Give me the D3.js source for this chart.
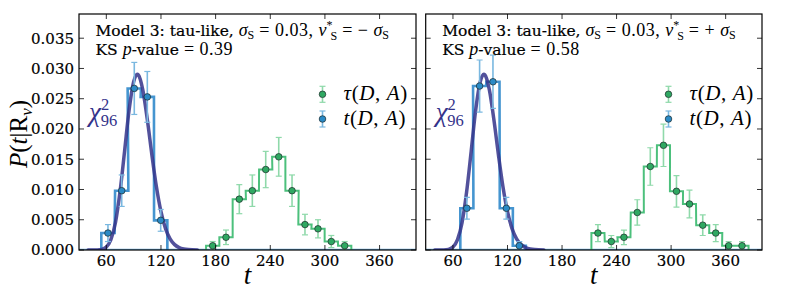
<!DOCTYPE html>
<html><head><meta charset="utf-8">
<script src="https://cdn.jsdelivr.net/npm/d3@7"></script>
<style>
html,body{margin:0;padding:0;background:#fff;}
svg{display:block;}
</style></head>
<body>
<svg id="chart" width="789" height="295"></svg>
<script>
// ---------- data ----------
const xTicks = [60, 120, 180, 240, 300, 360];
const yTicks = [0, 0.005, 0.010, 0.015, 0.020, 0.025, 0.030, 0.035];
const yTickLabels = ["0.000","0.005","0.010","0.015","0.020","0.025","0.030","0.035"];

// chi^2_96 curve
const chiT = [40, 50, 55, 60, 65, 70, 75, 80, 85, 90, 94, 95, 100, 105, 110, 115, 120, 125, 130, 135, 140, 145, 150, 160];
const chiP = [0.0000001, 0.0000135, 0.000098, 0.00048, 0.0017, 0.00452, 0.00957, 0.01626, 0.02312, 0.0278, 0.02904, 0.02896, 0.02649, 0.02155, 0.01575, 0.01044, 0.00633, 0.00354, 0.00184, 0.00089, 0.0004, 0.00017, 0.00007, 0.00001];

// left panel (nu* = -sigma)
const leftTitle = "−";
const leftKS = "0.39";
const leftBlueT = [61.8, 76.9, 90.7, 105.0, 119.7];
const leftBlueP = [0.0028, 0.0098, 0.0267, 0.0253, 0.0049];
const leftBlueErr = [0.0014, 0.0026, 0.0043, 0.0042, 0.0018];
const leftBlueW = 14.6;
const leftGreenT = [176.8, 191.4, 206.0, 220.3, 235.0, 249.3, 263.9, 278.1, 292.4, 307.0, 321.7];
const leftGreenP = [0.0007, 0.0021, 0.0084, 0.0098, 0.0133, 0.0154, 0.0098, 0.0042, 0.0035, 0.0014, 0.0007];
const leftGreenErr = [0.0007, 0.0012, 0.0024, 0.0026, 0.0030, 0.0032, 0.0026, 0.0017, 0.0015, 0.0010, 0.0007];
const leftGreenW = 14.6;

// right panel (nu* = +sigma)
const rightTitle = "+";
const rightKS = "0.58";
const rightBlueT = [75.3, 89.3, 104.0, 118.7, 133.0];
const rightBlueP = [0.0069, 0.0271, 0.0278, 0.0069, 0.0007];
const rightBlueErr = [0.0018, 0.0043, 0.0044, 0.0018, 0.0007];
const rightBlueW = 14.4;
const rightGreenT = [219.5, 234.2, 248.1, 262.8, 277.1, 291.6, 305.9, 320.2, 334.8, 349.1, 363.3, 378.0];
const rightGreenP = [0.0028, 0.0014, 0.0021, 0.0062, 0.0138, 0.0173, 0.0097, 0.0076, 0.0041, 0.0028, 0.0007, 0.0007];
const rightGreenErr = [0.0014, 0.0010, 0.0012, 0.0021, 0.0031, 0.0035, 0.0026, 0.0023, 0.0017, 0.0014, 0.0007, 0.0007];
const rightGreenW = 14.4;

const legendLabels = ["τ", "t"];

// ---------- styling ----------
const BLUE = "#3189cb", BLUE_ERR = "#7ab8e0", BLUE_PT = "#2a8ac6";
const GREEN = "#4cc07c", GREEN_ERR = "#8fd9aa", GREEN_PT = "#2fa862";
const CHI = "#34338a";
const SERIF = "'DejaVu Serif', serif";
const MATH = "'Liberation Serif', serif";

const svg = d3.select("#chart");
const panels = [
  {x0: 79, x1: 416, sign: leftTitle, ks: leftKS,
   blue: {t: leftBlueT, p: leftBlueP, e: leftBlueErr, w: leftBlueW},
   green: {t: leftGreenT, p: leftGreenP, e: leftGreenErr, w: leftGreenW},
   showY: true},
  {x0: 425.7, x1: 762, sign: rightTitle, ks: rightKS,
   blue: {t: rightBlueT, p: rightBlueP, e: rightBlueErr, w: rightBlueW},
   green: {t: rightGreenT, p: rightGreenP, e: rightGreenErr, w: rightGreenW},
   showY: false}
];
const yTop = 14, yBot = 250;

panels.forEach((P, pi) => {
  const x = d3.scaleLinear().domain([30, 400]).range([P.x0, P.x1]);
  const y = d3.scaleLinear().domain([0, 0.039]).range([yBot, yTop]);
  const g = svg.append("g");
  const clipId = "clip" + pi;
  svg.append("clipPath").attr("id", clipId).append("rect")
    .attr("x", P.x0).attr("y", yTop).attr("width", P.x1 - P.x0).attr("height", yBot - yTop);
  const plot = g.append("g").attr("clip-path", `url(#${clipId})`);

  plot.append("line").attr("x1", P.x0).attr("x2", P.x1)
    .attr("y1", y(0) - 0.5).attr("y2", y(0) - 0.5)
    .attr("stroke", BLUE).attr("stroke-width", 1.5).attr("opacity", 0.7);

  function stepPts(s) {
    const pts = [];
    s.t.forEach((c, i) => {
      const l = c - s.w / 2, r = c + s.w / 2;
      if (i === 0) pts.push([l, 0]);
      pts.push([l, s.p[i]]);
      pts.push([r, s.p[i]]);
      if (i === s.t.length - 1) pts.push([r, 0]);
    });
    return pts;
  }
  const line = d3.line().x(d => x(d[0])).y(d => y(d[1]));

  plot.append("path").attr("d", line(stepPts(P.green)))
    .attr("fill", "none").attr("stroke", GREEN).attr("stroke-width", 2);
  plot.append("path").attr("d", line(stepPts(P.blue)))
    .attr("fill", "none").attr("stroke", BLUE).attr("stroke-width", 2.6).attr("opacity", 0.9);

  plot.append("path").attr("d", d3.line().curve(d3.curveMonotoneX).x((d, i) => x(chiT[i])).y(d => y(d))(chiP))
    .attr("fill", "none").attr("stroke", CHI).attr("stroke-width", 3.5).attr("opacity", 0.85)
    .attr("stroke-linecap", "round");

  function errbars(s, col, ptcol) {
    const eg = plot.append("g");
    s.t.forEach((c, i) => {
      const cx = x(c), ylo = y(s.p[i] - s.e[i]), yhi = y(s.p[i] + s.e[i]);
      eg.append("line").attr("x1", cx).attr("x2", cx).attr("y1", ylo).attr("y2", yhi)
        .attr("stroke", col).attr("stroke-width", 1.6);
      [ylo, yhi].forEach(yy => eg.append("line").attr("x1", cx - 3).attr("x2", cx + 3)
        .attr("y1", yy).attr("y2", yy).attr("stroke", col).attr("stroke-width", 1.2));
    });
    s.t.forEach((c, i) => {
      eg.append("circle").attr("cx", x(c)).attr("cy", y(s.p[i])).attr("r", 3.3)
        .attr("fill", ptcol).attr("stroke", "#1c2a2a").attr("stroke-width", 0.7);
    });
  }
  errbars(P.green, GREEN_ERR, GREEN_PT);
  errbars(P.blue, BLUE_ERR, BLUE_PT);

  g.append("rect").attr("x", P.x0).attr("y", yTop).attr("width", P.x1 - P.x0).attr("height", yBot - yTop)
    .attr("fill", "none").attr("stroke", "#000").attr("stroke-width", 1.2);

  xTicks.forEach(v => {
    const xx = x(v);
    g.append("line").attr("x1", xx).attr("x2", xx).attr("y1", yBot).attr("y2", yBot - 5).attr("stroke", "#000").attr("stroke-width", 0.8);
    g.append("line").attr("x1", xx).attr("x2", xx).attr("y1", yTop).attr("y2", yTop + 5).attr("stroke", "#000").attr("stroke-width", 0.8);
    g.append("text").attr("x", xx).attr("y", 266).attr("text-anchor", "middle")
      .attr("font-family", SERIF).attr("font-size", 15)
      .attr("stroke", "#000").attr("stroke-width", 0.2).attr("fill", "#000").text(v);
  });
  yTicks.forEach((v, i) => {
    const yy = y(v);
    g.append("line").attr("x1", P.x0).attr("x2", P.x0 + 5).attr("y1", yy).attr("y2", yy).attr("stroke", "#000").attr("stroke-width", 0.8);
    g.append("line").attr("x1", P.x1).attr("x2", P.x1 - 5).attr("y1", yy).attr("y2", yy).attr("stroke", "#000").attr("stroke-width", 0.8);
    if (P.showY) {
      g.append("text").attr("x", P.x0 - 5).attr("y", yy + 5.3).attr("text-anchor", "end")
        .attr("font-family", SERIF).attr("font-size", 15)
        .attr("stroke", "#000").attr("stroke-width", 0.2).attr("fill", "#000").text(yTickLabels[i]);
    }
  });

  g.append("text").attr("x", (P.x0 + P.x1) / 2).attr("y", 284).attr("text-anchor", "middle")
    .attr("font-family", MATH).attr("font-style", "italic").attr("font-size", 27).text("t");

  // title line 1
  const t1 = g.append("text").attr("x", P.x0 + 16.5).attr("y", 35.5)
    .attr("font-family", SERIF).attr("font-size", 15.5).attr("fill", "#000");
  t1.append("tspan").attr("stroke", "#000").attr("stroke-width", 0.2).text("Model 3: tau-like, ");
  t1.append("tspan").attr("font-family", MATH).attr("font-style", "italic").attr("font-size", 18).text("σ");
  t1.append("tspan").attr("font-family", MATH).attr("font-size", 12).attr("dy", 3).text("S");
  t1.append("tspan").attr("font-family", MATH).attr("font-size", 18).attr("letter-spacing", 0.5).attr("dy", -3).text(" = 0.03, ");
  t1.append("tspan").attr("font-family", MATH).attr("font-style", "italic").attr("font-size", 18).text("ν");
  t1.append("tspan").attr("font-family", MATH).attr("font-size", 12).attr("dy", -7).text("*");
  t1.append("tspan").attr("font-family", MATH).attr("font-size", 12).attr("dx", -2).attr("dy", 11).text("S");
  t1.append("tspan").attr("font-family", MATH).attr("font-size", 18).attr("letter-spacing", 0.5).attr("dy", -4).text(" = " + P.sign + " ");
  t1.append("tspan").attr("font-family", MATH).attr("font-style", "italic").attr("font-size", 18).text("σ");
  t1.append("tspan").attr("font-family", MATH).attr("font-size", 12).attr("dy", 3).text("S");

  // title line 2
  const t2 = g.append("text").attr("x", P.x0 + 16.5).attr("y", 55)
    .attr("font-family", SERIF).attr("font-size", 15.5).attr("fill", "#000");
  t2.append("tspan").attr("stroke", "#000").attr("stroke-width", 0.2).text("KS ");
  t2.append("tspan").attr("font-family", MATH).attr("font-size", 18).attr("font-style", "italic").text("p");
  t2.append("tspan").attr("stroke", "#000").attr("stroke-width", 0.2).text("-value ");
  t2.append("tspan").attr("font-family", MATH).attr("font-size", 18).attr("letter-spacing", 0.5).text("= " + P.ks);

  // chi^2 label
  const cl = g.append("text").attr("x", P.x0 + 10).attr("y", 121).attr("fill", CHI)
    .attr("font-family", MATH).attr("font-size", 27);
  cl.append("tspan").attr("font-style", "italic").text("χ");
  cl.append("tspan").attr("font-size", 16.5).attr("dy", -11).text("2");
  cl.append("tspan").attr("font-size", 16.5).attr("dx", -8.5).attr("dy", 16).text("96");

  // legend
  const lx = P.x1 - 93.5;
  [[94.3, GREEN_ERR, GREEN_PT, legendLabels[0]], [119, BLUE_ERR, BLUE_PT, legendLabels[1]]].forEach(([ly, ec, pc, lab]) => {
    g.append("line").attr("x1", lx).attr("x2", lx).attr("y1", ly - 8).attr("y2", ly + 8).attr("stroke", ec).attr("stroke-width", 1.6);
    [ly - 8, ly + 8].forEach(yy => g.append("line").attr("x1", lx - 3).attr("x2", lx + 3).attr("y1", yy).attr("y2", yy).attr("stroke", ec).attr("stroke-width", 1.2));
    g.append("circle").attr("cx", lx).attr("cy", ly).attr("r", 3.3).attr("fill", pc).attr("stroke", "#1c2a2a").attr("stroke-width", 0.7);
    const lt = g.append("text").attr("x", lx + 21).attr("y", ly + 6)
      .attr("font-family", MATH).attr("font-size", 21).attr("letter-spacing", 0.6).attr("fill", "#000");
    lt.append("tspan").attr("font-style", "italic").text(lab);
    lt.append("tspan").text("(");
    lt.append("tspan").attr("font-style", "italic").text("D");
    lt.append("tspan").text(", ");
    lt.append("tspan").attr("font-style", "italic").text("A");
    lt.append("tspan").text(")");
  });
});

// y label
const yl = svg.append("text").attr("transform", "translate(27,134) rotate(-90)")
  .attr("text-anchor", "middle").attr("font-family", MATH).attr("font-size", 25).attr("fill", "#000");
yl.append("tspan").attr("font-style", "italic").text("P");
yl.append("tspan").text("(");
yl.append("tspan").attr("font-style", "italic").text("t");
yl.append("tspan").text("|R");
yl.append("tspan").attr("font-style", "italic").attr("font-size", 17).attr("dy", 5).text("ν");
yl.append("tspan").attr("dy", -5).text(")");
</script>
</body></html>
